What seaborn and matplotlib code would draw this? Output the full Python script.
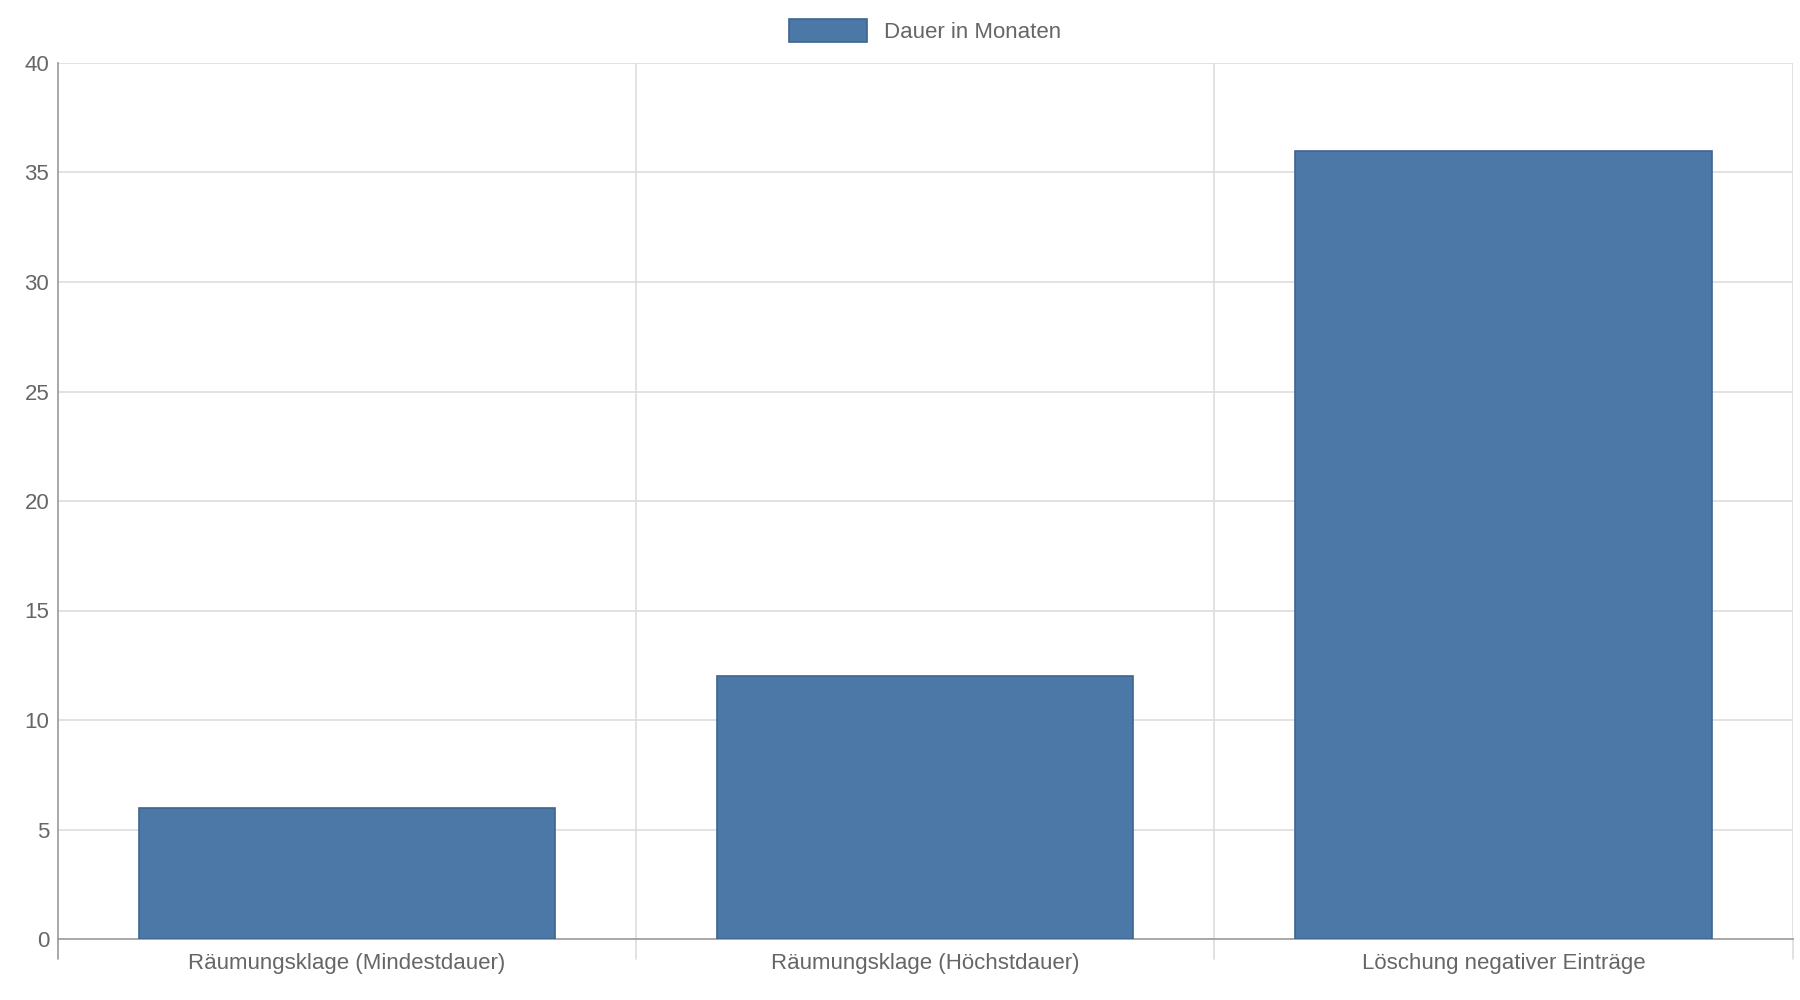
import matplotlib
matplotlib.use("Agg")
import matplotlib.pyplot as plt
import seaborn as sns
import pandas as pd

categories = ["Räumungsklage (Mindestdauer)", "Räumungsklage (Höchstdauer)", "Löschung negativer Einträge"]
values = [6, 12, 36]
series_name = "Dauer in Monaten"

sns.set_theme(style="white")
plt.rcParams['font.family'] = ['Liberation Sans', 'DejaVu Sans']
df = pd.DataFrame({"cat": categories, "val": values})

fig = plt.figure(figsize=(18, 10), dpi=100)
ax = fig.add_axes([0.032, 0.061, 0.964, 0.876])
sns.barplot(data=df, x="cat", y="val", color="#4c78a8", saturation=1, width=0.72,
            edgecolor="#3d6590", linewidth=1.2, ax=ax, label=series_name, zorder=3)
ax.set_xlim(-0.5, 2.5)
ax.set_ylim(0, 40)
ax.set_yticks(range(0, 41, 5))
ax.set_xlabel(""); ax.set_ylabel("")
for y in range(5, 41, 5):
    ax.axhline(y, color="#dddddd", lw=1.2, zorder=1)
for x in [0.5, 1.5, 2.5]:
    ax.axvline(x, color="#dddddd", lw=1.2, zorder=1)
for s in ["top", "right"]:
    ax.spines[s].set_visible(False)
for s in ["left", "bottom"]:
    ax.spines[s].set_color("#999999"); ax.spines[s].set_linewidth(1.2)
ax.tick_params(axis="y", colors="#666666", labelsize=16, length=0, pad=6)
ax.tick_params(axis="x", colors="#666666", labelsize=16, length=0, pad=10)
# category boundary ticks below axis
for x in [-0.5, 0.5, 1.5, 2.5]:
    ax.plot([x, x], [0, -0.9], color="#dddddd" if x > -0.5 else "#999999", lw=1.2, clip_on=False)
leg = ax.legend(loc="lower center", bbox_to_anchor=(0.5, 1.0), frameon=False, fontsize=16,
                handlelength=3.5, handleheight=1.2, labelcolor="#666666")
fig.savefig("out.png", dpi=100)
